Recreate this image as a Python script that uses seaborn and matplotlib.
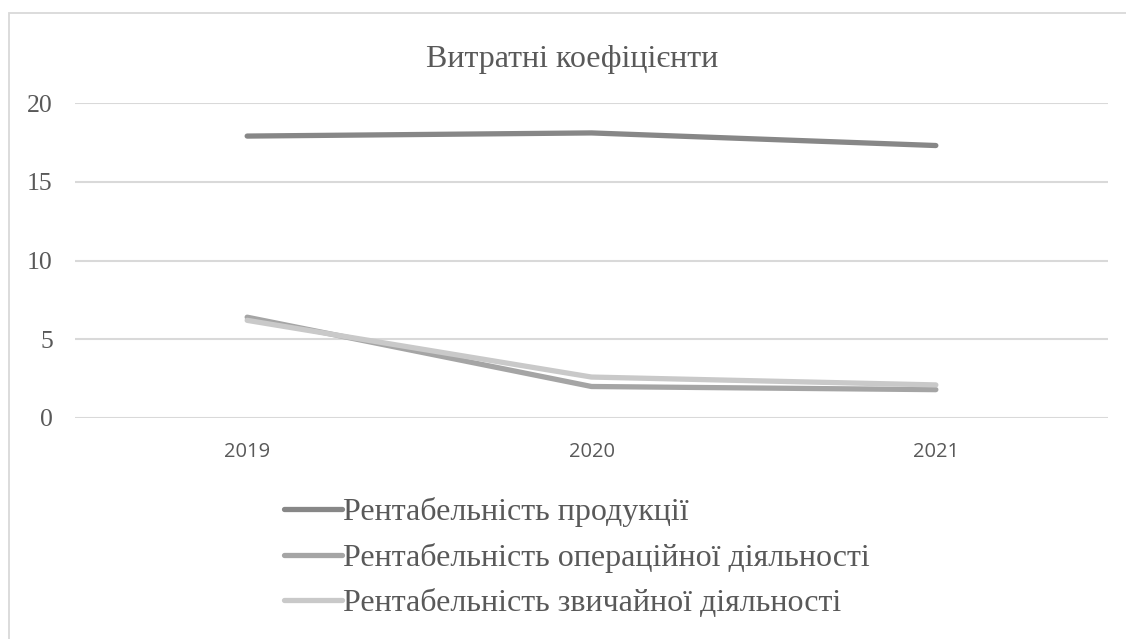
import pandas as pd
import matplotlib.pyplot as plt
import matplotlib.patches as patches
import seaborn as sns

years = ['2019', '2020', '2021']
series_names = ['Рентабельність продукції',
                'Рентабельність операційної діяльності',
                'Рентабельність звичайної діяльності']
product = [17.9, 18.1, 17.3]
operating = [6.4, 2.0, 1.8]
ordinary = [6.2, 2.6, 2.1]
y_ticks = [0, 5, 10, 15, 20]

colors = ['#878787', '#a5a5a5', '#c9c9c9']
text_color = '#595959'

df = pd.DataFrame({
    'year': years * 3,
    'value': product + operating + ordinary,
    'series': [s for s in series_names for _ in years],
})

sns.set_style('white')
plt.rcParams['font.family'] = ['Liberation Serif', 'DejaVu Serif']

fig = plt.figure(figsize=(11.26, 6.39), dpi=100)
ax = fig.add_axes([75 / 1126, 1 - 418 / 639, (1108 - 75) / 1126, 315 / 639])

sns.lineplot(data=df, x='year', y='value', hue='series',
             palette=colors, linewidth=3.8, sort=False, ax=ax,
             legend=False)
for line in ax.lines:
    line.set_solid_capstyle('round')
    line.set_solid_joinstyle('round')

ax.set_xlim(-0.5, 2.5)
ax.set_ylim(0, 20)
ax.set_yticks(y_ticks)
ax.set_yticklabels([str(t) for t in y_ticks], fontsize=18.5, color=text_color)
ax.set_xticks(range(len(years)))
ax.set_xticklabels(years, fontsize=14.5, color=text_color,
                   family=['Open Sans', 'DejaVu Sans'])
ax.tick_params(axis='y', length=0, pad=16)
ax.tick_params(axis='x', length=0, pad=17)
ax.set_xlabel('')
ax.set_ylabel('')
for sp in ax.spines.values():
    sp.set_visible(False)
ax.yaxis.grid(True, color='#d9d9d9', linewidth=1.5)
ax.set_axisbelow(True)

fig.text(572.5 / 1126, 1 - 59 / 639, 'Витратні коефіцієнти', fontsize=23,
         color=text_color, ha='center', va='center')

handles = [plt.Line2D([], [], color=c, linewidth=3.8, solid_capstyle='round')
           for c in colors]
fig.legend(handles, series_names, loc='upper left',
           bbox_to_anchor=(284 / 1126, 1 - 497 / 639), frameon=False,
           fontsize=23, labelcolor=text_color, handlelength=1.8,
           handletextpad=0.05, labelspacing=0.5, borderaxespad=0,
           borderpad=0)

fig.patches.append(patches.Rectangle((8.5 / 1126, -0.1), 2, 1.1 - 13 / 639,
                                     transform=fig.transFigure, fill=False,
                                     edgecolor='#d9d9d9', linewidth=1.3))

fig.savefig('out.png', dpi=100)
